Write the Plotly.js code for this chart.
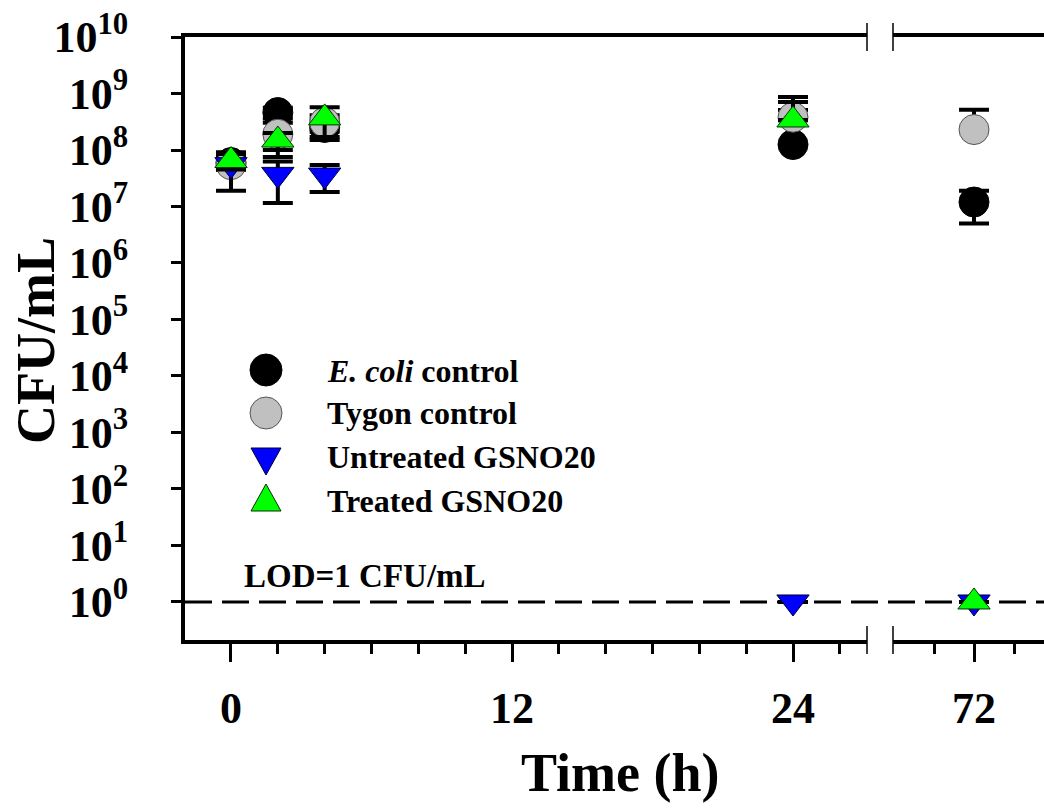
<!DOCTYPE html>
<html>
<head>
<meta charset="utf-8">
<script src="https://cdn.plot.ly/plotly-3.0.1.min.js"></script>
<style>
  html, body { margin: 0; padding: 0; background: #ffffff; }
  #chart { width: 1044px; height: 809px; }
</style>
</head>
<body>
<div id="chart"></div>
<script>
// Sampling times (h); points after the axis break go on the second x axis
const timePoints = [0, 2, 4, 24, 72];
const xTickVals = [0, 12, 24];
const x2TickVals = [72];
const yTickExponents = [0, 1, 2, 3, 4, 5, 6, 7, 8, 9, 10];

// Series names
const seriesNames = ['<i>E. coli</i> control', 'Tygon control', 'Untreated GSNO20', 'Treated GSNO20'];

// Mean CFU/mL and standard deviation (null = no error bar, at the detection limit)
const ecoliMean = [6.0e7, 4.6e8, 2.5e8, 1.25e8, 1.2e7];
const ecoliSD = [1.5e7, 1.0e8, 1.0e8, 3.85e8, 7.0e6];
const tygonMean = [5.5e7, 1.9e8, 3.1e8, 3.8e8, 2.3e8];
const tygonSD = [1.0e7, 1.15e8, 1.0e8, 4.9e8, 2.85e8];
const untreatedMean = [5.5e7, 3.7e7, 3.6e7, 1, 1];
const untreatedSD = [3.6e7, 2.55e7, 1.8e7, null, null];
const treatedMean = [6.5e7, 1.5e8, 3.7e8, 3.4e8, 1];
const treatedSD = [2.0e7, 5.0e7, 2.0e8, 3.7e8, null];

// Limit of detection
const LOD = 1;
const lodLabel = 'LOD=1 CFU/mL';

const FONT = 'Liberation Serif, Times New Roman, serif';

const styles = [
  { symbol: 'circle', color: '#000000', line: '#000000', size: 30 },
  { symbol: 'circle', color: '#c0c0c0', line: '#555555', size: 30 },
  { symbol: 'triangle-down', color: '#0000ff', line: '#000033', size: 28 },
  { symbol: 'triangle-up', color: '#00ff00', line: '#003300', size: 28 }
];
const means = [ecoliMean, tygonMean, untreatedMean, treatedMean];
const sds = [ecoliSD, tygonSD, untreatedSD, treatedSD];

// first segment covers 0-27 h, second segment holds the 72 h samples
const firstSegmentEnd = 27.16;
const secondSegmentStart = 67.95;

const traces = [];
means.forEach((mean, s) => {
  const sd = sds[s];
  const st = styles[s];
  [['x', t => t <= firstSegmentEnd], ['x2', t => t >= secondSegmentStart]].forEach(([axis, keep]) => {
    const idx = timePoints.map((t, i) => i).filter(i => keep(timePoints[i]));
    traces.push({
      type: 'scatter',
      mode: 'markers',
      xaxis: axis,
      yaxis: 'y',
      x: idx.map(i => timePoints[i]),
      y: idx.map(i => mean[i]),
      name: seriesNames[s],
      showlegend: false,
      cliponaxis: false,
      marker: { symbol: st.symbol, size: st.size, color: st.color, line: { color: st.line, width: 1 } },
      error_y: {
        type: 'data',
        symmetric: false,
        array: idx.map(i => sd[i]),
        // a lower bar reaching zero or below cannot be shown on a log scale
        arrayminus: idx.map(i => sd[i] == null ? null : (sd[i] < mean[i] ? sd[i] : 0)),
        color: '#000000',
        thickness: 4,
        width: 15
      }
    });
  });
});

// paper coordinates from pixel positions inside the page
const M = { l: 185, r: 0, t: 37, b: 169 };
const W = 1044, H = 809;
const plotW = W - M.l - M.r, plotH = H - M.t - M.b;
const px = x => (x - M.l) / plotW;
const py = y => (H - M.b - y) / plotH;

const shapes = [];
const annotations = [];

// detection-limit line
shapes.push({
  type: 'line', xref: 'paper', yref: 'y', x0: 0, x1: 1, y0: LOD, y1: LOD,
  line: { color: '#000000', width: 3, dash: '27px,10px' }, layer: 'below'
});

// axis break marks (top and bottom)
[867, 893].forEach(xb => {
  [37, 640].forEach(yb => {
    shapes.push({
      type: 'line', xref: 'paper', yref: 'paper',
      x0: px(xb), x1: px(xb), y0: py(yb + 14), y1: py(yb - 14),
      line: { color: '#000000', width: 1.5 }
    });
  });
});

// legend: symbols and labels
const legendX = 266, legendTextX = 325;
const legendSymbolY = [370, 413, 461, 498];
const legendTextY = [371, 413, 457, 501];
seriesNames.forEach((name, s) => {
  const st = styles[s];
  const base = {
    xref: 'paper', yref: 'paper', xsizemode: 'pixel', ysizemode: 'pixel',
    xanchor: px(legendX), yanchor: py(legendSymbolY[s]),
    fillcolor: st.color, line: { color: st.line, width: 1 }
  };
  if (st.symbol === 'circle') {
    shapes.push(Object.assign({ type: 'circle', x0: -16, x1: 16, y0: -16, y1: 16 }, base));
  } else if (st.symbol === 'triangle-down') {
    shapes.push(Object.assign({ type: 'path', path: 'M-15,13 L15,13 L0,-14 Z' }, base));
  } else {
    shapes.push(Object.assign({ type: 'path', path: 'M-15,-13 L15,-13 L0,14 Z' }, base));
  }
  annotations.push({
    xref: 'paper', yref: 'paper', x: px(legendTextX), y: py(legendTextY[s]),
    xanchor: 'left', yanchor: 'middle', showarrow: false, text: name,
    font: { family: FONT, size: 32, weight: 'bold', color: '#000000' }
  });
});

annotations.push({
  xref: 'paper', yref: 'paper', x: px(242), y: py(576),
  xanchor: 'left', yanchor: 'middle', showarrow: false, text: lodLabel,
  font: { family: FONT, size: 33, weight: 'bold', color: '#000000' }
});

// axis titles
annotations.push({
  xref: 'paper', yref: 'paper', x: px(620), y: py(773),
  xanchor: 'center', yanchor: 'middle', showarrow: false, text: 'Time (h)',
  font: { family: FONT, size: 54, weight: 'bold', color: '#000000' }
});
annotations.push({
  xref: 'paper', yref: 'paper', x: px(36), y: py(341),
  xanchor: 'center', yanchor: 'middle', showarrow: false, text: 'CFU/mL', textangle: -90,
  font: { family: FONT, size: 54, weight: 'bold', color: '#000000' }
});

const tickFont = { family: FONT, size: 44, weight: 'bold', color: '#000000' };
const commonX = {
  showline: true, linewidth: 4, linecolor: '#000000', mirror: true,
  showgrid: false, zeroline: false, ticks: 'outside', ticklen: 18, tickwidth: 3,
  tickcolor: '#000000', tickfont: tickFont, ticklabelstandoff: 8, anchor: 'y', fixedrange: true
};

const layout = {
  width: W, height: H,
  margin: { l: M.l, r: M.r, t: M.t, b: M.b, pad: 0 },
  paper_bgcolor: '#ffffff', plot_bgcolor: '#ffffff',
  showlegend: false,
  xaxis: Object.assign({}, commonX, {
    domain: [0, px(867)], range: [-1.964, firstSegmentEnd],
    tickmode: 'array', tickvals: xTickVals, ticktext: xTickVals.map(String),
    minor: { tickmode: 'linear', tick0: 0, dtick: 2, ticks: 'outside', ticklen: 10, tickwidth: 3, tickcolor: '#000000', showgrid: false }
  }),
  xaxis2: Object.assign({}, commonX, {
    domain: [px(893), 1], range: [secondSegmentStart, 75.5],
    tickmode: 'array', tickvals: x2TickVals, ticktext: x2TickVals.map(String),
    minor: { tickmode: 'array', tickvals: [70, 74], ticks: 'outside', ticklen: 10, tickwidth: 3, tickcolor: '#000000', showgrid: false }
  }),
  yaxis: {
    type: 'log', range: [-0.673, 10], anchor: 'x',
    tickmode: 'array',
    tickvals: yTickExponents.map(n => Math.pow(10, n)),
    ticktext: yTickExponents.map(n => '10<sup>' + n + '</sup>'),
    showline: true, linewidth: 4, linecolor: '#000000',
    showgrid: false, zeroline: false, ticks: 'outside', ticklen: 10, tickwidth: 3,
    tickcolor: '#000000', tickfont: { family: FONT, size: 44, weight: 'bold', color: '#000000' },
    ticklabelstandoff: 34, fixedrange: true
  },
  shapes: shapes,
  annotations: annotations
};

Plotly.newPlot('chart', traces, layout, { displayModeBar: false, staticPlot: true });
</script>
</body>
</html>
